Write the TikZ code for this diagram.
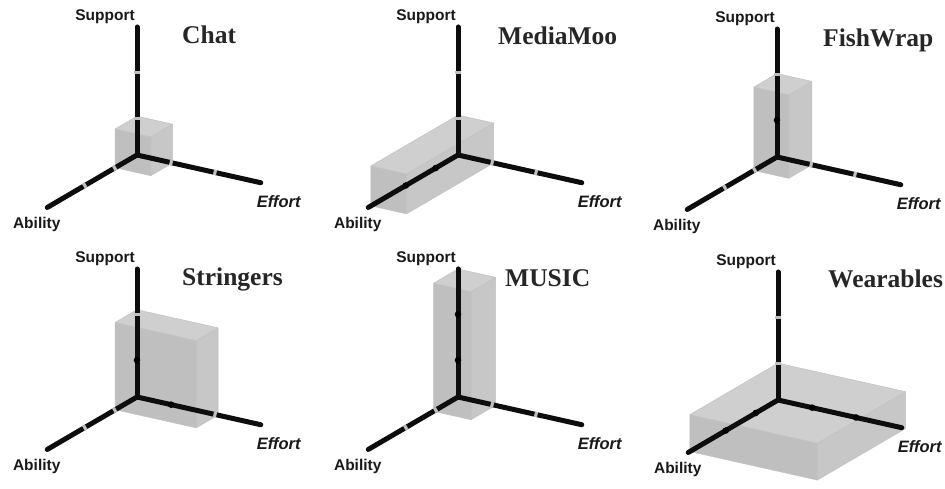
\documentclass[tikz,border=0pt]{standalone}
\usepackage{fontspec}
\setmainfont{Liberation Serif}
\newfontfamily\axisfont{Liberation Sans}

% One panel: three axes (Effort, Ability, Support) with a shaded box.
% #1 prefix, #2/#3 origin in px, #4 effort, #5 ability, #6 support extent,
% #7 title, #8 title base point, #9 extra marks drawn inside the box frame
\newcommand\axespanel[9]{%
  \begin{scope}[shift={(#2pt,-#3pt)},
                x={(37.5pt,-8.4pt)}, y={(-27.2pt,-15.9pt)}, z={(0pt,38.8pt)}]
    \coordinate (#1-o) at (0,0,0);
    \coordinate (#1-e) at (3.3,0,0);
    \coordinate (#1-a) at (0,3.3,0);
    \coordinate (#1-s) at (0,0,3.3);
    % box faces seen from the front
    \path[faceside]  (#4,0,0) -- (#4,#5,0) -- (#4,#5,#6) -- (#4,0,#6) -- cycle;
    \path[facefront] (0,#5,0) -- (#4,#5,0) -- (#4,#5,#6) -- (0,#5,#6) -- cycle;
    \path[facetop]   (0,0,#6) -- (#4,0,#6) -- (#4,#5,#6) -- (0,#5,#6) -- cycle;
    % axes
    \draw[axisline] (#1-o) -- (#1-e);
    \draw[axisline] (#1-o) -- (#1-a);
    \draw[axisline] (#1-o) -- (#1-s);
    % scale marks
    \draw[tickband] (0.87,0,0) -- (0.95,0,0);
    \draw[tickband] (2.04,0,0) -- (2.12,0,0);
    \draw[tickband] (0,0.77,0) -- (0,0.87,0);
    \draw[tickband] (0,1.87,0) -- (0,1.97,0);
    \draw[tickband] (0,0,0.91) -- (0,0,0.99);
    \draw[tickband] (0,0,2.09) -- (0,0,2.17);
    #9
    % axis names
    \node[axislabel, anchor=base east, xshift=-2pt, yshift=6pt] (#1-sl) at (#1-s) {Support};
    \node[axislabel, anchor=base, xshift=-10.5pt, yshift=-21pt] (#1-al) at (#1-a) {Ability};
    \node[axislabel, anchor=base, xshift=18pt, yshift=-25pt,
          font=\axisfont\bfseries\itshape\fontsize{16.5pt}{19pt}\selectfont] (#1-el) at (#1-e) {Effort};
  \end{scope}
  \node[paneltitle] (#1-title) at (#8) {#7};
}

\begin{document}
\begin{tikzpicture}[
  axisline/.style={line width=5pt, line cap=round, draw=black!95},
  tickband/.style={line width=5.2pt, line cap=butt, draw=black!25},
  darktick/.style={fill=black},
  boxedge/.style={draw=black!24, line width=0.5pt, line join=round},
  facetop/.style={boxedge, fill=black!19},
  facefront/.style={boxedge, fill=black!25},
  faceside/.style={boxedge, fill=black!22},
  axislabel/.style={font=\axisfont\bfseries\fontsize{15.5pt}{18pt}\selectfont,
                    inner sep=0pt, text=black!90},
  paneltitle/.style={font=\bfseries\fontsize{25.5pt}{30pt}\selectfont,
                     inner sep=0pt, text=black!85, anchor=base west},
]
\useasboundingbox (0pt,0pt) rectangle (945pt,-489pt);
\fill[white] (0pt,0pt) rectangle (945pt,-489pt);

\axespanel{chat}{137}{155}{0.95}{0.8}{1.0}{Chat}{182pt,-44pt}{}

\axespanel{moo}{458}{155}{0.95}{3.2}{1.03}{MediaMoo}{498pt,-45pt}{%
  \fill[darktick] (0,0.82,0) circle[radius=3.3pt];
  \fill[darktick] (0,1.92,0) circle[radius=3.3pt];}

\axespanel{fish}{777}{157}{0.93}{0.85}{2.15}{FishWrap}{823pt,-47pt}{%
  \fill[darktick] (0,0,0.95) circle[radius=3.3pt];}

\axespanel{str}{137}{397}{2.16}{0.8}{2.25}{Stringers}{182pt,-285pt}{%
  \fill[darktick] (0,0,0.95) circle[radius=3.3pt];
  \fill[darktick] (0.91,0,0) circle[radius=3.3pt];}

\axespanel{mus}{458}{397}{1.0}{0.9}{3.3}{MUSIC}{505pt,-286pt}{%
  \fill[darktick] (0,0,0.95) circle[radius=3.3pt];
  \fill[darktick] (0,0,2.13) circle[radius=3.3pt];}

\axespanel{wear}{778}{400}{3.4}{3.24}{0.95}{Wearables}{828pt,-287pt}{%
  \fill[darktick] (0,0.82,0) circle[radius=3.3pt];
  \fill[darktick] (0,1.92,0) circle[radius=3.3pt];
  \fill[darktick] (0.91,0,0) circle[radius=3.3pt];
  \fill[darktick] (2.08,0,0) circle[radius=3.3pt];}
\end{tikzpicture}
\end{document}
